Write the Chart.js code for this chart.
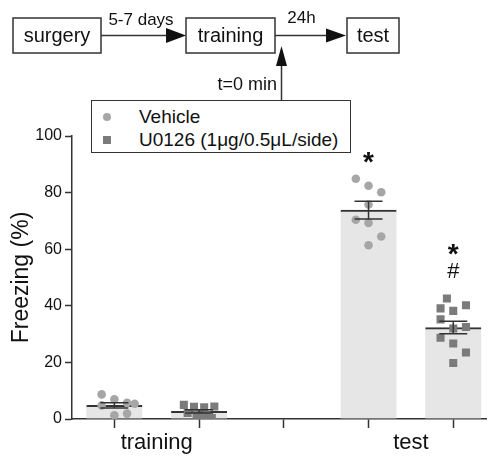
<!DOCTYPE html>
<html>
<head>
<meta charset="utf-8">
<title>Freezing</title>
<script src="https://cdn.jsdelivr.net/npm/chart.js@4.4.0/dist/chart.umd.min.js"></script>
<style>
  body { margin: 0; background: #fff; font-family: "Liberation Sans", Arial, sans-serif; }
  #wrap { position: relative; width: 492px; height: 456px; }
  #freezeChart { position: absolute; left: 0; top: 0; }
  #flow { position: absolute; left: 0; top: 0; }
  #flow text { font-family: "Liberation Sans", Arial, sans-serif; fill: #111; }
  #legendBox { position: absolute; left: 91px; top: 100px; width: 258px; height: 51px;
    border: 1.5px solid #333; background: #fff; color: #111; font-size: 19px; }
  .row { position: absolute; left: 0; height: 20px; line-height: 20px; white-space: nowrap; }
  .mark { position: absolute; left: 11px; top: 6px; width: 8px; height: 8px; }
  .label { position: absolute; left: 47px; top: 0; }
</style>
</head>
<body>
<div id="wrap">
  <canvas id="freezeChart" width="492" height="456"></canvas>
  <svg id="flow" width="492" height="101">
    <g stroke="#333" stroke-width="1.5" fill="none">
      <rect x="13" y="18" width="88" height="35"/>
      <rect x="186" y="18" width="89" height="35"/>
      <rect x="347" y="18" width="52" height="35"/>
      <line x1="101" y1="35.5" x2="170" y2="35.5"/>
      <line x1="275" y1="35.5" x2="330" y2="35.5"/>
      <line x1="281.5" y1="101" x2="281.5" y2="62"/>
    </g>
    <g fill="#111">
      <polygon points="166,28 186,35.5 166,43"/>
      <polygon points="326,28.5 346,35.5 326,42.5"/>
      <polygon points="276,66 281.5,46 287,66"/>
    </g>
    <text x="57" y="42" font-size="20" text-anchor="middle">surgery</text>
    <text x="230.5" y="42" font-size="20" text-anchor="middle">training</text>
    <text x="373" y="42" font-size="20" text-anchor="middle">test</text>
    <text x="141" y="25" font-size="17" text-anchor="middle">5-7 days</text>
    <text x="301.5" y="23" font-size="17" text-anchor="middle">24h</text>
    <text x="277" y="90" font-size="18" text-anchor="end">t=0 min</text>
  </svg>
  <div id="legendBox"></div>
</div>
<script>
const groups = ['training', 'test'];
const seriesNames = ['Vehicle', 'U0126 (1μg/0.5μL/side)'];
const yTicks = [0, 20, 40, 60, 80, 100];

// individual animals (% freezing)
const vehicleTraining = [8.7, 7.0, 4.8, 5.7, 5.4, 1.3, 1.9];
const vehicleTest = [84.9, 82.4, 80.1, 75.8, 70.4, 69.3, 64.5, 61.4];
const u0126Training = [5.0, 4.3, 4.1, 4.4, 2.1, 1.5, 1.3, 0.3, 0.8];
const u0126Test = [42.6, 39.1, 38.2, 40.2, 35.2, 32.0, 32.5, 28.7, 26.7, 23.5, 19.8];

// jitter columns for the dots
const vehicleTrainingCols = [-1, 0, -1, 1, 1.6, 0, 1];
const vehicleTestCols = [-1, 0, 1, 0, -1, 0, 1, 0];
const u0126TrainingCols = [-1.2, -0.4, 0.4, 1.2, -0.9, -0.2, 0.6, 1.0, 0];
const u0126TestCols = [-0.5, -1, 0, 1, -1, 0, 1, -1, 0, 1, 0];

// mean and SEM, order: vehicle/training, u0126/training, vehicle/test, u0126/test
const meanFreezing = [4.8, 2.7, 73.8, 32.3];
const semFreezing = [0.9, 0.6, 3.1, 2.2];

// significance marks: bar index, text, height in %
const sigMarks = [[2, '*', 90.5], [3, '*', 58], [3, '#', 52]];

const slotX = (g, s) => g * 3 + s;
const barSlots = [slotX(0, 0), slotX(0, 1), slotX(1, 0), slotX(1, 1)];
const jitter = 0.15;

function dots(values, cols, g, s) {
    return values.map((v, i) => ({ x: slotX(g, s) + cols[i] * jitter, y: v }));
}

const dark = '#333';
const fontFam = '"Liberation Sans", Arial, sans-serif';

// html legend
const legendBox = document.getElementById('legendBox');
seriesNames.forEach((name, i) => {
    const row = document.createElement('div');
    row.className = 'row';
    row.style.top = (i === 0 ? 6 : 29) + 'px';
    const mark = document.createElement('span');
    mark.className = 'mark';
    mark.style.background = i === 0 ? '#a6a6a6' : '#7b7b7b';
    if (i === 0) mark.style.borderRadius = '50%';
    const label = document.createElement('span');
    label.className = 'label';
    label.textContent = name;
    row.appendChild(mark);
    row.appendChild(label);
    legendBox.appendChild(row);
});

const errorBars = {
    id: 'errorBars',
    afterDatasetsDraw(chart) {
        const { ctx, scales: { x, y } } = chart;
        ctx.save();
        ctx.strokeStyle = dark;
        ctx.lineWidth = 1.5;
        barSlots.forEach((pos, i) => {
            const px = x.getPixelForValue(pos);
            const hi = y.getPixelForValue(meanFreezing[i] + semFreezing[i]);
            const lo = y.getPixelForValue(meanFreezing[i] - semFreezing[i]);
            ctx.beginPath();
            ctx.moveTo(px, hi); ctx.lineTo(px, lo);
            ctx.moveTo(px - 14, hi); ctx.lineTo(px + 14, hi);
            ctx.moveTo(px - 14, lo); ctx.lineTo(px + 14, lo);
            ctx.stroke();
        });
        ctx.fillStyle = '#111';
        ctx.textAlign = 'center';
        ctx.textBaseline = 'middle';
        sigMarks.forEach(([bar, txt, val]) => {
            ctx.font = (txt === '*' ? 'bold 28px ' : '22px ') + fontFam;
            ctx.fillText(txt, x.getPixelForValue(barSlots[bar]), y.getPixelForValue(val));
        });
        ctx.restore();
    }
};

const ctx = document.getElementById('freezeChart').getContext('2d');
const freezeChart = new Chart(ctx, {
    data: {
        datasets: [{
            type: 'bar',
            label: 'mean',
            data: barSlots.map((p, i) => ({ x: p, y: meanFreezing[i] })),
            backgroundColor: '#e6e6e6',
            borderColor: dark,
            borderWidth: { top: 2, right: 0, bottom: 0, left: 0 },
            barThickness: 56,
            order: 3
        }, {
            type: 'scatter',
            label: seriesNames[0],
            data: dots(vehicleTraining, vehicleTrainingCols, 0, 0).concat(dots(vehicleTest, vehicleTestCols, 1, 0)),
            pointStyle: 'circle',
            pointRadius: 4.3,
            backgroundColor: '#a6a6a6',
            borderWidth: 0,
            order: 1
        }, {
            type: 'scatter',
            label: seriesNames[1],
            data: dots(u0126Training, u0126TrainingCols, 0, 1).concat(dots(u0126Test, u0126TestCols, 1, 1)),
            pointStyle: 'rect',
            pointRadius: 5.7,
            backgroundColor: '#7b7b7b',
            borderWidth: 0,
            order: 1
        }]
    },
    options: {
        responsive: false,
        animation: false,
        layout: { padding: { top: 136, right: 0, left: 0, bottom: 0 } },
        plugins: { legend: { display: false }, tooltip: { enabled: false } },
        scales: {
            x: {
                type: 'linear',
                min: -0.5,
                max: 4.39,
                offset: false,
                afterBuildTicks: (scale) => {
                    const vals = [0, 0.5, 1, 2, 3, 3.5, 4];
                    scale.ticks = vals.map(v => ({ value: v }));
                },
                afterFit: (scale) => { scale.height = 37; },
                ticks: {
                    autoSkip: false,
                    maxRotation: 0,
                    padding: 2,
                    color: '#111',
                    font: { family: fontFam, size: 22 },
                    callback: (v) => {
                        const g = groups.findIndex((_, i) => slotX(i, 0.5) === v);
                        return g >= 0 ? groups[g] : '';
                    }
                },
                grid: {
                    offset: false,
                    drawOnChartArea: false,
                    tickLength: 9,
                    tickWidth: 1.5,
                    tickColor: (c) => (c.tick && c.tick.value % 1 !== 0) ? 'rgba(0,0,0,0)' : dark
                },
                border: { color: dark, width: 1.5 }
            },
            y: {
                min: 0,
                max: 100,
                afterBuildTicks: (scale) => { scale.ticks = yTicks.map(v => ({ value: v })); },
                afterFit: (scale) => { scale.width = 72; },
                ticks: {
                    padding: 3,
                    color: '#111',
                    font: { family: fontFam, size: 16 }
                },
                grid: { drawOnChartArea: false, tickLength: 7, tickWidth: 1.5, tickColor: dark },
                border: { color: dark, width: 1.5 },
                title: {
                    display: true,
                    text: 'Freezing (%)',
                    color: '#111',
                    font: { family: fontFam, size: 23 },
                    padding: { top: 8, bottom: 0 }
                }
            }
        }
    },
    plugins: [errorBars]
});
</script>
</body>
</html>
